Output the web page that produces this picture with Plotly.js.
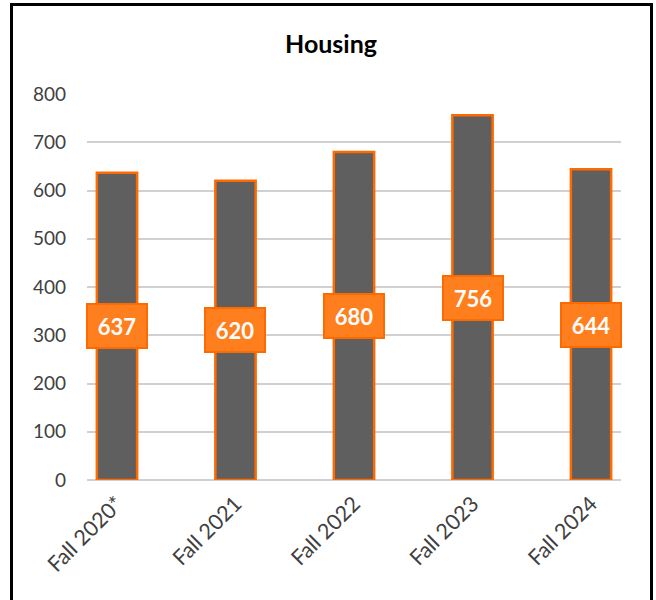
<!DOCTYPE html>
<html>
<head>
<meta charset="utf-8">
<script src="https://cdn.plot.ly/plotly-3.0.1.min.js"></script>
<style>
  html, body { margin: 0; padding: 0; background: #ffffff; overflow: hidden; }
  #chart { width: 656px; height: 600px; position: absolute; left: 0; top: 0; }
  #frame { position: absolute; left: 10px; top: 3px; width: 643px; height: 620px;
           border: 3px solid #000000; pointer-events: none; box-sizing: border-box; }
</style>
</head>
<body>
<div id="chart"></div>
<div id="frame"></div>
<script>
const categories = ["Fall 2020*", "Fall 2021", "Fall 2022", "Fall 2023", "Fall 2024"];
const housing = [637, 620, 680, 756, 644];
const yTicks = [0, 100, 200, 300, 400, 500, 600, 700, 800];

const fontFamily = "Lato, 'Open Sans', sans-serif";

const trace = {
  type: "bar",
  x: categories,
  y: housing,
  width: 0.34,
  marker: { color: "#5f5f5f", line: { color: "#ff6a00", width: 2.5 } },
  hoverinfo: "skip"
};

const annotations = categories.map((c, i) => ({
  x: c, y: housing[i] / 2, xref: "x", yref: "y",
  text: "<b>" + housing[i] + "</b>",
  showarrow: false,
  font: { family: fontFamily, size: 22, color: "#ffffff" },
  bgcolor: "#ff7f1e",
  bordercolor: "#ff6a00",
  borderwidth: 2,
  borderpad: 3,
  width: 52,
  height: 36,
  xanchor: "center", yanchor: "middle"
}));

const layout = {
  width: 656, height: 600,
  margin: { l: 87, r: 35, t: 94, b: 120, pad: 0 },
  paper_bgcolor: "rgba(0,0,0,0)",
  plot_bgcolor: "rgba(0,0,0,0)",
  showlegend: false,
  bargap: 0.66,
  title: {
    text: "<b>Housing</b>",
    font: { family: fontFamily, size: 25, color: "#000000" },
    x: 331 / 656, xref: "container", xanchor: "center",
    y: 1 - 44 / 600, yref: "container", yanchor: "middle"
  },
  xaxis: {
    type: "category",
    range: [-0.253, 4.253],
    showgrid: false, zeroline: false, showline: false,
    ticks: "",
    tickangle: -45,
    ticklabelstandoff: 6,
    tickfont: { family: fontFamily, size: 21.5, color: "#404040" },
    fixedrange: true
  },
  yaxis: {
    range: [0, 800],
    tickvals: yTicks,
    ticktext: yTicks.map(String),
    showgrid: true, gridcolor: "#d0d0d0", gridwidth: 2,
    zeroline: true, zerolinecolor: "#d0d0d0", zerolinewidth: 2,
    showline: false, ticks: "",
    ticklabelstandoff: 20,
    tickfont: { family: fontFamily, size: 19, color: "#404040" },
    fixedrange: true
  },
  annotations: annotations
};

Plotly.newPlot("chart", [trace], layout, { displayModeBar: false, staticPlot: true });
</script>
</body>
</html>
